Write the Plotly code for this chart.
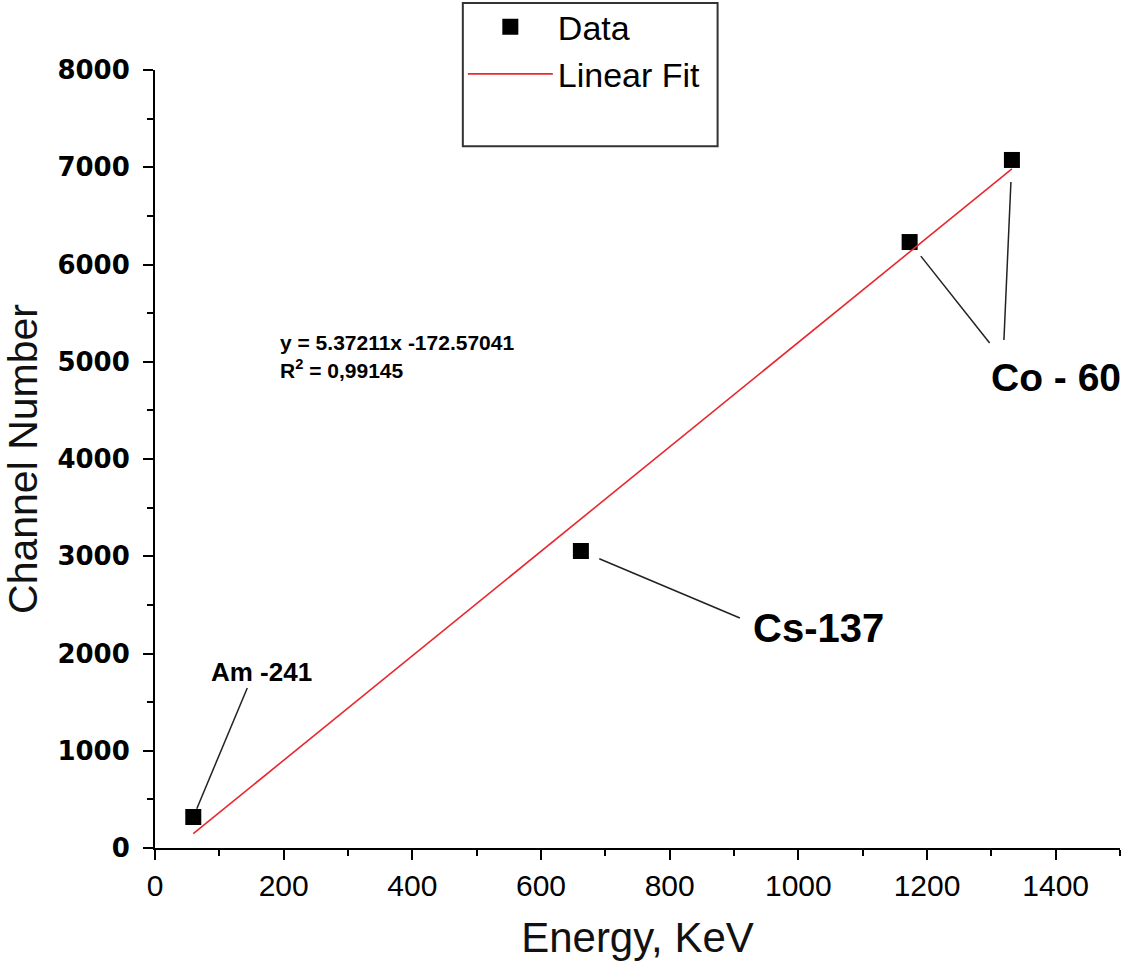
import plotly.graph_objects as go

# Data
energy_kev = [59.5, 662, 1173, 1332]
channel = [319, 3054, 6231, 7075]
isotopes = ["Am -241", "Cs-137", "Co - 60", "Co - 60"]

# Linear fit shown on the chart
slope = 5.37211
intercept = -172.57041
r2_text = "0,99145"
fit_x = [min(energy_kev), max(energy_kev)]
fit_y = [slope * v + intercept for v in fit_x]

x_ticks = [0, 200, 400, 600, 800, 1000, 1200, 1400]
y_ticks = [0, 1000, 2000, 3000, 4000, 5000, 6000, 7000, 8000]

fig = go.Figure()
fig.add_trace(go.Scatter(
    x=energy_kev, y=channel, mode="markers", name="Data",
    marker=dict(symbol="square", size=16, color="black"),
))
fig.add_trace(go.Scatter(
    x=fit_x, y=fit_y, mode="lines", name="Linear Fit",
    line=dict(color="#e8282e", width=1.6),
))

label_font = dict(family="Liberation Sans, Arial, sans-serif", color="black")

# Leader lines: anchored at each data point, pixel offsets (head, tail), y up
leader_offsets = [
    ((3.5, 8.3), (54, 129)),
    ((18.4, -7.8), (159, -67)),
    ((11.2, -14.1), (80, -101)),
    ((-1, -22), (-8, -180)),
]
for i, ((hx, hy), (tx, ty)) in enumerate(leader_offsets):
    fig.add_shape(
        type="line", xref="x", yref="y",
        xsizemode="pixel", ysizemode="pixel",
        xanchor=energy_kev[i], yanchor=channel[i],
        x0=hx, y0=hy, x1=tx, y1=ty,
        line=dict(color="#222222", width=1.5),
    )

# Isotope labels
fig.add_annotation(x=166, y=1810, text="<b>%s</b>" % isotopes[0], showarrow=False,
                   font=dict(size=26, **label_font))
fig.add_annotation(x=1031, y=2262, text="<b>%s</b>" % isotopes[1], showarrow=False,
                   font=dict(size=40, **label_font))
fig.add_annotation(x=1400, y=4840, text="<b>%s</b>" % isotopes[2], showarrow=False,
                   font=dict(size=39, **label_font))

# Fit equation
fig.add_annotation(x=191, y=5195, xanchor="left", showarrow=False,
                   text="<b>y = %.5fx %.5f</b>" % (slope, intercept),
                   font=dict(size=21, **label_font))
fig.add_annotation(x=191, y=4925, xanchor="left", showarrow=False,
                   text="<b>R<sup>2</sup> = %s</b>" % r2_text,
                   font=dict(size=21, **label_font))

# Legend frame
fig.add_shape(type="rect", xref="paper", yref="paper",
              x0=0.319, x1=0.583, y0=0.902, y1=1.086,
              line=dict(color="#333333", width=2), fillcolor="white", layer="below")

axis_common = dict(
    showline=True, linecolor="black", linewidth=2,
    ticks="outside", ticklen=10, tickwidth=2, tickcolor="black",
    showgrid=False, zeroline=False, mirror=False, automargin=False,
)

fig.update_xaxes(
    range=[0, 1500], tickvals=x_ticks,
    minor=dict(ticks="outside", ticklen=6, tickwidth=2, tickcolor="black", dtick=100, tick0=0),
    tickfont=dict(family="Liberation Sans, Arial, sans-serif", size=30, color="black"),
    title=dict(text="Energy, KeV", standoff=22,
               font=dict(family="Liberation Sans, Arial, sans-serif", size=42, color="#111111")),
    **axis_common,
)
fig.update_yaxes(
    range=[0, 8000], tickvals=y_ticks,
    minor=dict(ticks="outside", ticklen=6, tickwidth=2, tickcolor="black", dtick=500, tick0=0),
    tickfont=dict(family="DejaVu Sans, sans-serif", size=26, color="black", weight="bold"),
    ticklabelstandoff=8,
    title=dict(text="Channel Number", standoff=10,
               font=dict(family="Liberation Sans, Arial, sans-serif", size=41, color="#111111")),
    **axis_common,
)

fig.update_layout(
    width=1126, height=966,
    margin=dict(l=155, r=6, t=70, b=118, autoexpand=False),
    paper_bgcolor="white", plot_bgcolor="white",
    showlegend=True,
    legend=dict(
        x=0.319, y=1.0925, xanchor="left", yanchor="top",
        bgcolor="rgba(0,0,0,0)", borderwidth=0,
        font=dict(family="Liberation Sans, Arial, sans-serif", size=34, color="black"),
        itemwidth=85, tracegroupgap=0,
    ),
)

fig.write_html("out.html")
